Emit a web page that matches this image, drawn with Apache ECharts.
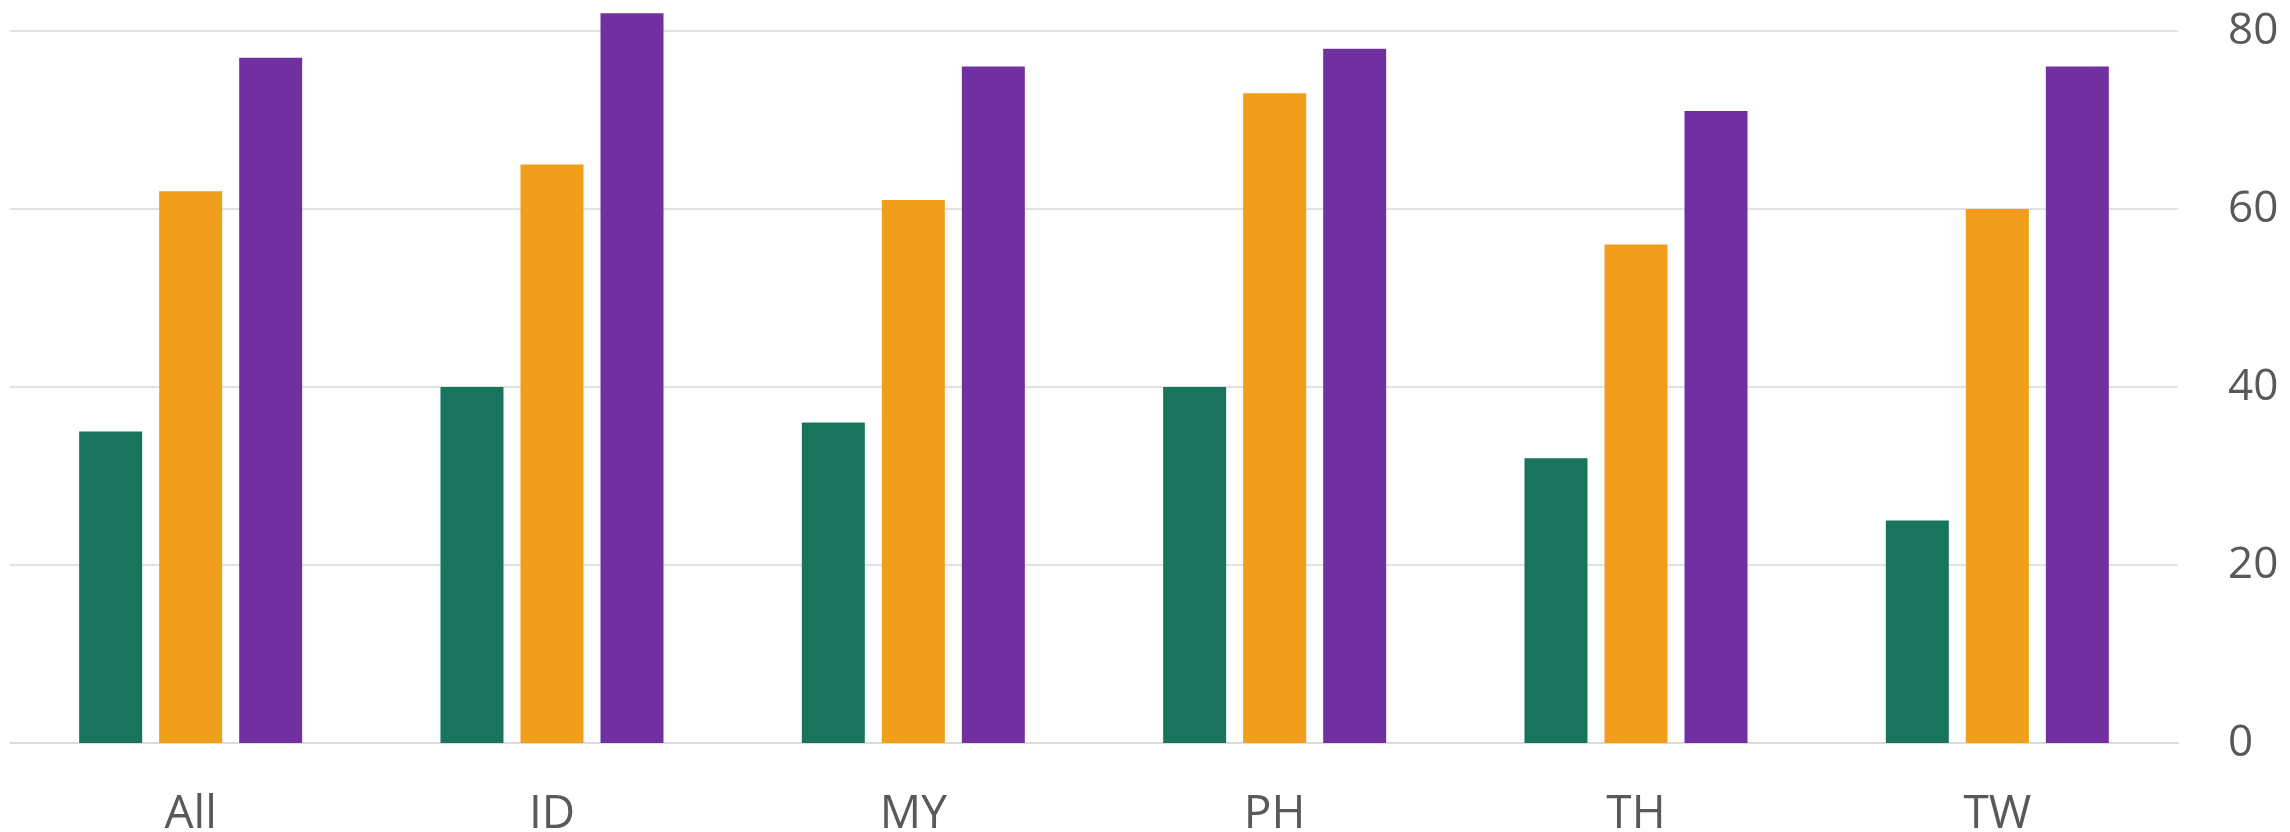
<!DOCTYPE html>
<html>
<head>
<meta charset="utf-8">
<title>bar chart</title>
<script src="https://cdn.jsdelivr.net/npm/echarts@6/dist/echarts.min.js"></script>
<style>
  html, body { margin: 0; padding: 0; background: #fff; }
  #chart { width: 2290px; height: 832px; }
</style>
</head>
<body>
<div id="chart"></div>
<script>
// categories on the x axis
const categories = ['All', 'ID', 'MY', 'PH', 'TH', 'TW']
// three series
const greenValues = [35, 40, 36, 40, 32, 25]
const orangeValues = [62, 65, 61, 73, 56, 60]
const purpleValues = [77, 82, 76, 78, 71, 76]
const yTicks = [0, 20, 40, 60, 80]

const colors = ['#18745b', '#f09e1c', '#7030a0']
const labelFont = '"Open Sans", "Noto Sans", sans-serif'

function makeSeries (name, data, color) {
  return {
    name: name,
    type: 'bar',
    data: data,
    barWidth: 63,
    barGap: '27%',
    clip: false, // ID goes past the 80 line
    itemStyle: { color: color },
    animation: false
  }
}

let myChart = echarts.init(document.getElementById('chart'), null, { renderer: 'canvas' })
let option = {
  animation: false,
  backgroundColor: '#ffffff',
  grid: {
    left: 10,
    right: 112,
    top: 31,
    bottom: 89,
    containLabel: false,
    outerBoundsMode: 'none'
  },
  xAxis: {
    type: 'category',
    data: categories,
    axisLine: { show: true, lineStyle: { color: '#d9d9d9', width: 1.5 } },
    axisTick: { show: false },
    axisLabel: {
      color: '#595959',
      fontSize: 46,
      fontFamily: labelFont,
      margin: 49
    }
  },
  yAxis: {
    type: 'value',
    position: 'right',
    min: yTicks[0],
    max: yTicks[yTicks.length - 1],
    interval: yTicks[1] - yTicks[0],
    axisLine: { show: false },
    axisTick: { show: false },
    splitLine: { lineStyle: { color: '#d9d9d9', width: 1.5 } },
    axisLabel: {
      color: '#595959',
      fontSize: 44,
      fontFamily: labelFont,
      margin: 50
    }
  },
  series: [
    makeSeries('Series 1', greenValues, colors[0]),
    makeSeries('Series 2', orangeValues, colors[1]),
    makeSeries('Series 3', purpleValues, colors[2])
  ]
}
myChart.setOption(option)
</script>
</body>
</html>
